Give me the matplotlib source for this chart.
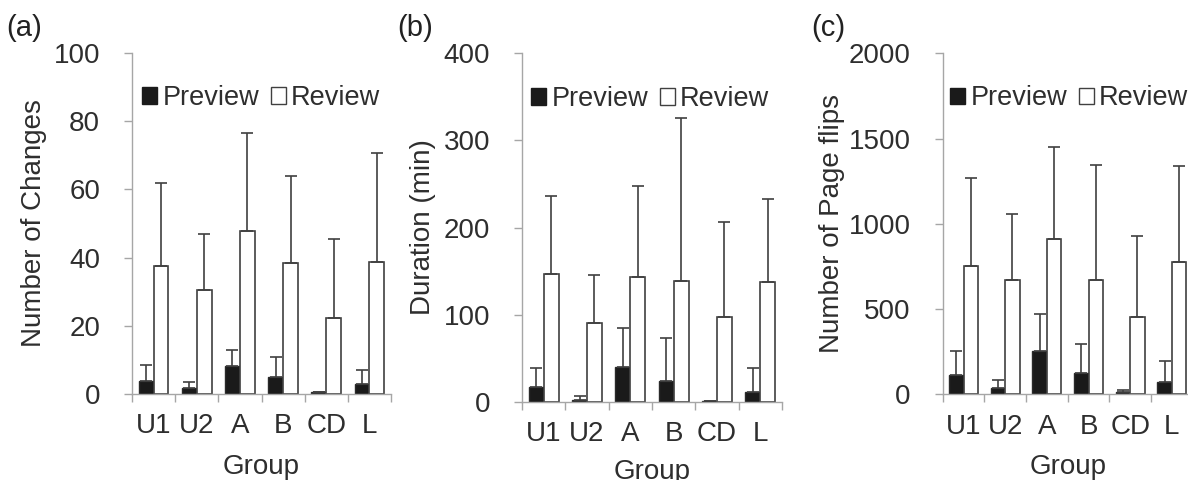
import matplotlib
matplotlib.use("Agg")
import matplotlib.pyplot as plt
from matplotlib.patches import Patch
import numpy as np

groups = ["U1", "U2", "A", "B", "CD", "L"]

# (a) Number of changes
a_preview = [3.9, 1.8, 8.1, 5.0, 0.7, 2.8]
a_preview_sd = [4.5, 1.7, 4.8, 5.9, 0.0, 4.2]
a_review = [37.4, 30.4, 47.9, 38.5, 22.3, 38.8]
a_review_sd = [24.5, 16.4, 28.6, 25.4, 23.2, 31.8]

# (b) Duration (min)
b_preview = [17.2, 1.9, 40.2, 23.7, 0.8, 11.5]
b_preview_sd = [21.5, 5.0, 44.8, 50.2, 0.0, 27.2]
b_review = [146.6, 90.7, 142.8, 138.6, 97.6, 137.0]
b_review_sd = [89.2, 54.4, 105.2, 186.4, 108.4, 95.7]

# (c) Number of page flips
c_preview = [113, 37, 254, 127, 14, 70]
c_preview_sd = [139, 47, 215, 168, 13, 126]
c_review = [755, 673, 909, 673, 456, 776]
c_review_sd = [516, 383, 540, 670, 475, 561]

TXT = "#2e2e2e"
AXC = "#a6a6a6"
FS = 20
plt.rcParams["font.family"] = ["Liberation Sans", "DejaVu Sans"]
plt.rcParams["font.size"] = FS
plt.rcParams["text.color"] = TXT

fig = plt.figure(figsize=(11.88, 4.8), dpi=100)

panels = [
    dict(rect=[132/1188, 1-394/480, 259/1188, 341/480], pre=a_preview, pre_sd=a_preview_sd,
         rev=a_review, rev_sd=a_review_sd, ymax=100, yticks=[0, 20, 40, 60, 80, 100],
         ylabel="Number of Changes", tag="(a)", tagx=6/1188, ylx=-0.33, xly=-0.175, legx=0.040),
    dict(rect=[522/1188, 1-402/480, 260/1188, 349/480], pre=b_preview, pre_sd=b_preview_sd,
         rev=b_review, rev_sd=b_review_sd, ymax=400, yticks=[0, 100, 200, 300, 400],
         ylabel="Duration (min)", tag="(b)", tagx=397/1188, ylx=-0.33, xly=-0.162, legx=0.036),
    dict(rect=[942.7/1188, 1-394.3/480, 250/1188, 341/480], pre=c_preview, pre_sd=c_preview_sd,
         rev=c_review, rev_sd=c_review_sd, ymax=2000, yticks=[0, 500, 1000, 1500, 2000],
         ylabel="Number of Page flips", tag="(c)", tagx=811/1188, ylx=-0.39, xly=-0.175, legx=0.030),
]

x = np.arange(len(groups))
w = 0.345

for p in panels:
    ax = fig.add_axes(p["rect"])
    pre = np.array(p["pre"], float)
    rev = np.array(p["rev"], float)
    ax.bar(x - w/2, pre, width=w, color="#1a1a1a", edgecolor="#2a2a2a", linewidth=1.0, zorder=2)
    ax.bar(x + w/2, rev, width=w, color="white", edgecolor="#404040", linewidth=1.2, zorder=2)
    ax.errorbar(x - w/2, pre, yerr=[np.zeros_like(pre), np.array(p["pre_sd"], float)],
                fmt="none", ecolor="#404040", elinewidth=1.2, capsize=4.5, capthick=1.2, zorder=3)
    ax.errorbar(x + w/2, rev, yerr=[np.zeros_like(rev), np.array(p["rev_sd"], float)],
                fmt="none", ecolor="#404040", elinewidth=1.2, capsize=4.5, capthick=1.2, zorder=3)

    ax.set_xlim(-0.5, len(groups) - 0.5)
    ax.set_ylim(0, p["ymax"])
    ax.set_yticks(p["yticks"])
    ax.set_xticks(np.arange(len(groups) + 1) - 0.5)
    ax.set_xticklabels([])
    ax.set_xticks(x, minor=True)
    ax.set_xticklabels(groups, minor=True)
    ax.tick_params(axis="x", which="major", length=6, width=1.0, color=AXC, direction="out")
    ax.tick_params(axis="x", which="minor", length=0, pad=14, labelsize=FS, labelcolor=TXT)
    ax.tick_params(axis="y", length=6, width=1.0, color=AXC, direction="out", pad=17,
                   labelsize=FS, labelcolor=TXT)
    for s in ["top", "right"]:
        ax.spines[s].set_visible(False)
    for s in ["left", "bottom"]:
        ax.spines[s].set_color(AXC)
        ax.spines[s].set_linewidth(1.0)

    ax.set_ylabel(p["ylabel"], fontsize=FS, color=TXT)
    ax.yaxis.set_label_coords(p["ylx"], 0.5)
    ax.set_xlabel("Group", fontsize=FS, color=TXT, va="top")
    ax.xaxis.set_label_coords(0.5, p["xly"])

    handles = [Patch(facecolor="#1a1a1a", edgecolor="#1a1a1a", label="Preview"),
               Patch(facecolor="white", edgecolor="#404040", linewidth=1.0, label="Review")]
    ax.legend(handles=handles, loc="center left", bbox_to_anchor=(p["legx"], 0.868),
              ncol=2, frameon=False, fontsize=19.5, handlelength=0.55, handleheight=0.55,
              handletextpad=0.2, columnspacing=0.42, borderpad=0, borderaxespad=0)

    fig.text(p["tagx"], 1 - 28/480, p["tag"], fontsize=21, color="#222222", va="center", ha="left")

fig.savefig("out.png", dpi=100)
